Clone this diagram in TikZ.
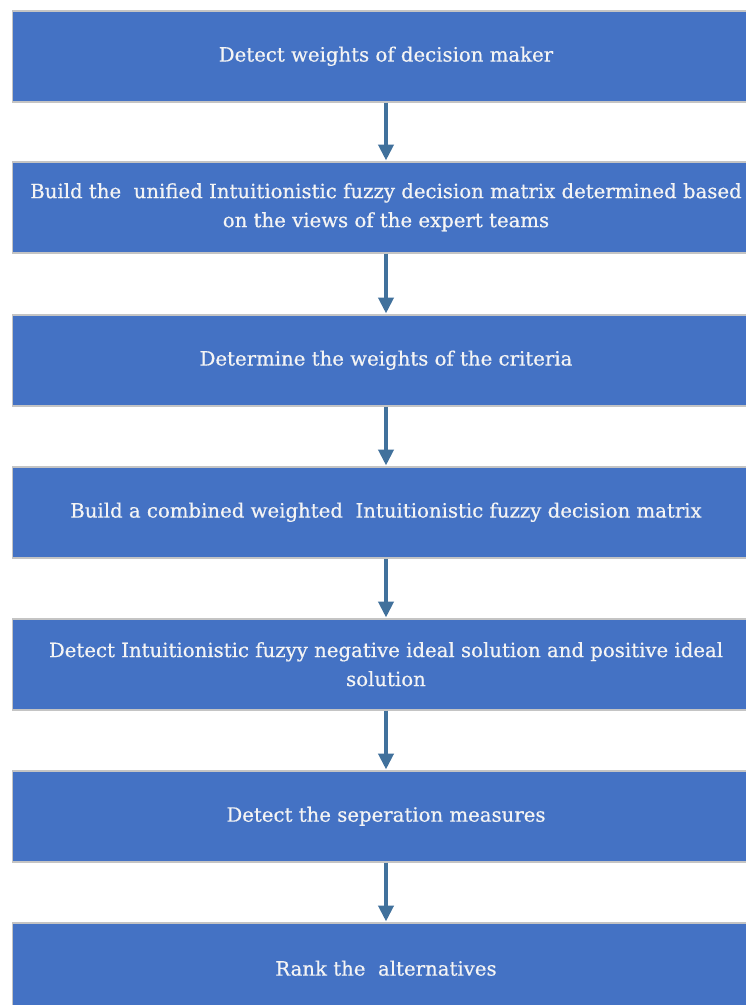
\documentclass[tikz,border=0pt]{standalone}
\usepackage{fontspec}
\setmainfont{DejaVu Serif}[FakeBold=0.5]
\usetikzlibrary{arrows.meta}
\definecolor{boxblue}{HTML}{4472C4}
\definecolor{arrowblue}{HTML}{41719C}
\definecolor{boxedge}{HTML}{C4C4C4}
\definecolor{boxtext}{HTML}{F4F4F4}
\tikzset{
  stepbox/.style={rectangle, fill=boxblue, draw=boxedge, line width=1.5pt,
    minimum width=747pt, minimum height=91pt, inner sep=0pt, anchor=north,
    text=boxtext, align=center, font=\fontsize{19.7}{29}\selectfont},
  flowarrow/.style={draw=arrowblue, line width=4pt,
    -{Triangle[width=15pt,length=16pt]}, shorten >=0.5pt}
}
\begin{document}
\begin{tikzpicture}[x=1pt,y=-1pt]
\useasboundingbox (0,0) rectangle (746,1005);
\clip (0,0) rectangle (746,1005);
\fill[white] (0,0) rectangle (746,1005);
\node[stepbox] (b1) at (386,10) {Detect weights of decision maker};
\node[stepbox] (b2) at (386,161) {Build the\ \ unified Intuitionistic fuzzy decision matrix determined based\\on the views of the expert teams};
\node[stepbox] (b3) at (386,314) {Determine the weights of the criteria};
\node[stepbox] (b4) at (386,466) {Build a combined weighted\ \ Intuitionistic fuzzy decision matrix};
\node[stepbox] (b5) at (386,618) {Detect Intuitionistic fuzyy negative ideal solution and positive ideal\\solution};
\node[stepbox] (b6) at (386,770) {Detect the seperation measures};
\node[stepbox] (b7) at (386,922) {Rank the\ \ alternatives};
\draw[flowarrow] (b1.south) -- (b2.north);
\draw[flowarrow] (b2.south) -- (b3.north);
\draw[flowarrow] (b3.south) -- (b4.north);
\draw[flowarrow] (b4.south) -- (b5.north);
\draw[flowarrow] (b5.south) -- (b6.north);
\draw[flowarrow] (b6.south) -- (b7.north);
\end{tikzpicture}
\end{document}
